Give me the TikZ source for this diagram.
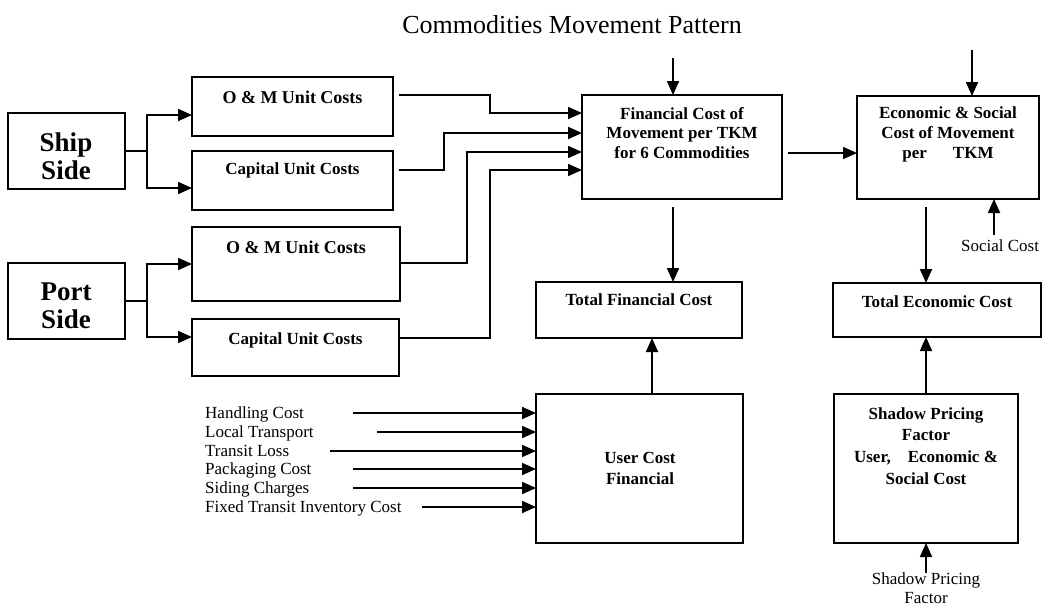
\documentclass[tikz,border=0pt]{standalone}
\usepackage{fontspec}
\setmainfont{Liberation Serif}
\usetikzlibrary{arrows.meta}
\begin{document}
\begin{tikzpicture}[x=1pt,y=-1pt,
 box/.style={draw, line width=1.8pt, inner sep=0pt, outer sep=0pt, anchor=north west},
 conn/.style={line width=1.8pt},
 arr/.style={line width=1.8pt, -{Triangle[length=14pt,width=12pt]}},
 bt/.style={font=\bfseries\fontsize{17}{20}\selectfont, align=center, inner sep=0pt},
 bto/.style={font=\bfseries\fontsize{18}{20}\selectfont, align=center, inner sep=0pt},
 big/.style={font=\bfseries\fontsize{27}{28}\selectfont, align=center, inner sep=0pt},
 lbl/.style={font=\fontsize{17}{20}\selectfont, inner sep=0pt, align=center},
 ttl/.style={font=\fontsize{26}{30}\selectfont, inner sep=0pt}]
\useasboundingbox (0,0) rectangle (1046,608);

% title
\node[ttl] (title) at (572,25) {Commodities Movement Pattern};

% boxes
\node[box, minimum width=117, minimum height=76] (ship) at (8,113) {};
\node[box, minimum width=117, minimum height=76] (port) at (8,263) {};
\node[box, minimum width=201, minimum height=59] (om1) at (192,77) {};
\node[box, minimum width=201, minimum height=59] (cap1) at (192,151) {};
\node[box, minimum width=208, minimum height=74] (om2) at (192,227) {};
\node[box, minimum width=207, minimum height=57] (cap2) at (192,319) {};
\node[box, minimum width=200, minimum height=104] (fin) at (582,95) {};
\node[box, minimum width=182, minimum height=103] (eco) at (857,96) {};
\node[box, minimum width=206, minimum height=56] (tfin) at (536,282) {};
\node[box, minimum width=208, minimum height=54] (teco) at (833,283) {};
\node[box, minimum width=207, minimum height=149] (user) at (536,394) {};
\node[box, minimum width=184, minimum height=149] (shadow) at (834,394) {};

% box texts
\node[big] (shipt) at (66,156) {Ship\\Side};
\node[big] (portt) at (66,306) {Port\\Side};
\node[bto] (om1t) at (292.5,97) {O \& M Unit Costs};
\node[bt] (cap1t) at (292.5,170) {Capital Unit Costs};
\node[bto] (om2t) at (296,247) {O \& M Unit Costs};
\node[bt] (cap2t) at (295.5,340) {Capital Unit Costs};
\node[bt, font=\bfseries\fontsize{17}{19.5}\selectfont] (fint) at (682,133) {Financial Cost of\\Movement per TKM\\for 6 Commodities};
\node[bt] (ecot) at (948,134) {Economic \& Social\\Cost of Movement\\per\hspace{26pt}TKM};
\node[bt] (tfint) at (639,300) {Total Financial Cost};
\node[bt] (tecot) at (937,302) {Total Economic Cost};
\node[bt, font=\bfseries\fontsize{17}{21}\selectfont] (usert) at (640,468) {User Cost\\Financial};
\node[bt, font=\bfseries\fontsize{17}{21.7}\selectfont] (shadowt) at (926,446) {Shadow Pricing\\Factor\\User,\hspace{17pt}Economic \&\\Social Cost};

% ship / port splits
\coordinate (sj) at (147,151);
\coordinate (pj) at (147,301);
\draw[arr] (ship.east) -- (sj) |- (om1.west |- 0,115);
\draw[arr] (sj) |- (cap1.west |- 0,188);
\draw[arr] (port.east) -- (pj) |- (om2.west |- 0,264);
\draw[arr] (pj) |- (cap2.west |- 0,337);

% unit costs into financial cost
\draw[arr] (om1.east |- 0,95) ++(6,0) -| (490,113) -- (fin.west |- 0,113);
\draw[arr] (cap1.east |- 0,170) ++(6,0) -| (444,133) -- (fin.west |- 0,133);
\draw[arr] (om2.east |- 0,263) -| (467,152) -- (fin.west |- 0,152);
\draw[arr] (cap2.east |- 0,338) -| (490,170) -- (fin.west |- 0,170);

% top inputs
\coordinate (fintop) at (673,58);
\coordinate (ecotop) at (972,50);
\draw[arr] (fintop) -- (fin.north -| fintop);
\draw[arr] (ecotop) -- (eco.north -| ecotop);

% financial -> economic
\draw[arr] (fin.east |- 0,153) ++(6,0) -- (eco.west |- 0,153);
% downward
\draw[arr] (fin.south -| 673,0) ++(0,8) -- (tfin.north -| 673,0);
\draw[arr] (eco.south -| 926,0) ++(0,8) -- (teco.north -| 926,0);
% social cost
\node[lbl] (social) at (1000,246) {Social Cost};
\coordinate (socstart) at (994,235);
\draw[arr] (socstart) -- (eco.south -| socstart);
% user -> total financial
\draw[arr] (user.north -| 652,0) -- (tfin.south -| 652,0);
% shadow -> total economic
\draw[arr] (shadow.north) -- (teco.south -| shadow.north);
% shadow pricing factor input
\node[lbl, font=\fontsize{17}{19}\selectfont] (spf) at (926,588) {Shadow Pricing\\Factor};
\coordinate (spfstart) at (926,573);
\draw[arr] (spfstart) -- (shadow.south);

% user cost inputs
\node[lbl, anchor=base west] (l1) at (205,418) {Handling Cost};
\node[lbl, anchor=base west] (l2) at (205,437) {Local Transport};
\node[lbl, anchor=base west] (l3) at (205,456) {Transit Loss};
\node[lbl, anchor=base west] (l4) at (205,474) {Packaging Cost};
\node[lbl, anchor=base west] (l5) at (205,493) {Siding Charges};
\node[lbl, anchor=base west] (l6) at (205,512) {Fixed Transit Inventory Cost};
\coordinate (s1) at (353,413);
\coordinate (s2) at (377,432);
\coordinate (s3) at (330,451);
\coordinate (s4) at (353,469);
\coordinate (s5) at (353,488);
\coordinate (s6) at (422,507);
\foreach \s in {s1,s2,s3,s4,s5,s6}
  \draw[arr] (\s) -- (user.west |- \s);
\end{tikzpicture}
\end{document}
